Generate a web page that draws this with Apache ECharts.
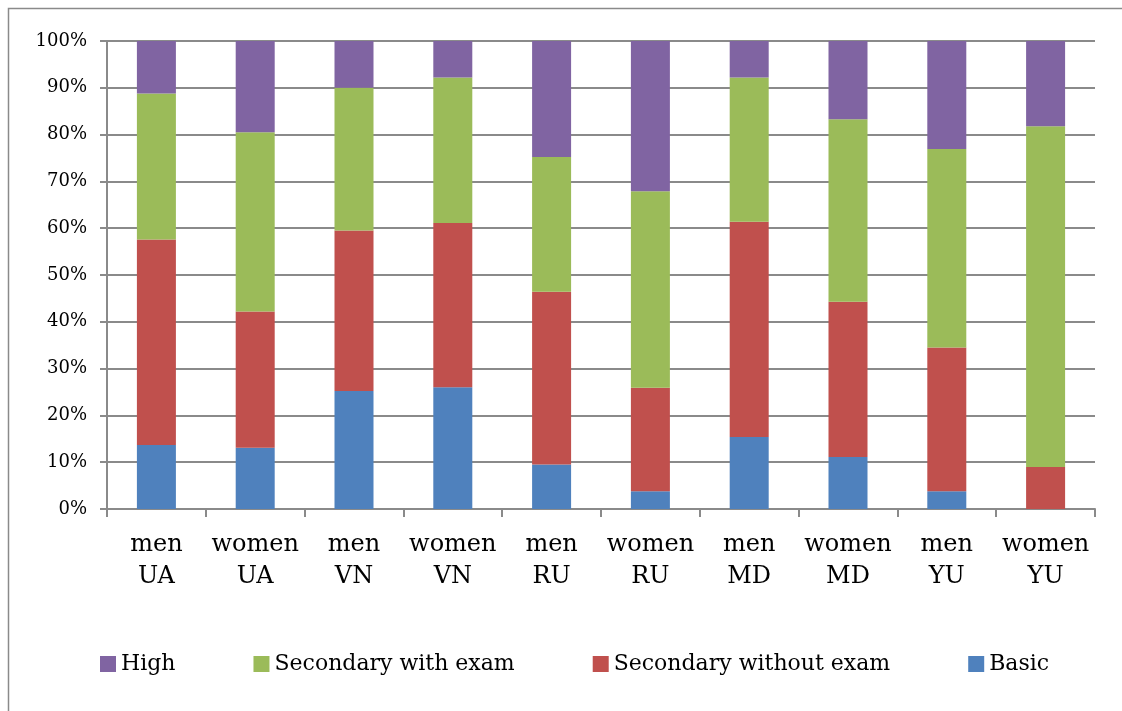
<!DOCTYPE html>
<html>
<head>
<meta charset="utf-8">
<script src="https://cdn.jsdelivr.net/npm/echarts@6/dist/echarts.min.js"></script>
<style>
    html, body { margin: 0; padding: 0; background: #fff; }
    #main { width: 1122px; height: 711px; }
</style>
</head>
<body>
<div id="main"></div>
<script>
// categories (gender + country)
var categories = ['men\nUA', 'women\nUA', 'men\nVN', 'women\nVN', 'men\nRU',
    'women\nRU', 'men\nMD', 'women\nMD', 'men\nYU', 'women\nYU'];

// share of each education level, % (stacked to 100)
var basic = [13.7, 13.1, 25.2, 26.0, 9.5, 3.8, 15.4, 11.1, 3.8, 0];
var secWithout = [43.9, 29.1, 34.3, 35.1, 36.9, 22.1, 46.0, 33.2, 30.7, 9.0];
var secWith = [31.2, 38.3, 30.5, 31.1, 28.8, 42.0, 30.8, 39.0, 42.4, 72.8];
var high = [11.2, 19.5, 10.0, 7.8, 24.8, 32.1, 7.8, 16.7, 23.1, 18.2];

var yTicks = { min: 0, max: 100, step: 10 };

var gridColor = '#8a8a8a';
var serif = 'DejaVu Serif';

function barSeries(name, data, color) {
    return {
        name: name,
        type: 'bar',
        stack: 'total',
        barWidth: 39,
        data: data,
        itemStyle: { color: color },
        emphasis: { disabled: true }
    };
}

var chart = echarts.init(document.getElementById('main'));
chart.setOption({
    animation: false,
    // outer chart frame (only top and left edges visible in the crop)
    graphic: [{
        type: 'polyline',
        shape: { points: [[8.5, 711], [8.5, 8.5], [1122, 8.5]] },
        style: { fill: null, stroke: '#8a8a8a', lineWidth: 1.5 },
        silent: true
    }],
    grid: { left: 107, right: 27, top: 41, bottom: 202 },
    legend: {
        left: 95,
        top: 648,
        itemWidth: 16,
        itemHeight: 16,
        itemGap: 78,
        icon: 'rect',
        data: ['High', 'Secondary with exam', 'Secondary without exam', 'Basic'],
        textStyle: { fontFamily: serif, fontSize: 22, color: '#000' }
    },
    xAxis: {
        type: 'category',
        data: categories,
        axisLine: { lineStyle: { color: gridColor, width: 2 } },
        axisTick: { show: true, interval: 0, length: 8, lineStyle: { color: gridColor, width: 2 } },
        axisLabel: {
            interval: 0,
            fontFamily: serif,
            fontSize: 24,
            lineHeight: 32,
            color: '#000',
            margin: 20
        }
    },
    yAxis: {
        type: 'value',
        min: yTicks.min,
        max: yTicks.max,
        interval: yTicks.step,
        axisLine: { show: true, lineStyle: { color: gridColor, width: 2 } },
        axisTick: { show: true, length: 7, lineStyle: { color: gridColor, width: 2 } },
        splitLine: { lineStyle: { color: gridColor, width: 2 } },
        axisLabel: {
            formatter: '{value}%',
            fontFamily: serif,
            fontSize: 18,
            color: '#000',
            margin: 20
        }
    },
    series: [
        barSeries('Basic', basic, '#4F81BD'),
        barSeries('Secondary without exam', secWithout, '#C0504D'),
        barSeries('Secondary with exam', secWith, '#9BBB59'),
        barSeries('High', high, '#8064A2')
    ]
});
</script>
</body>
</html>
